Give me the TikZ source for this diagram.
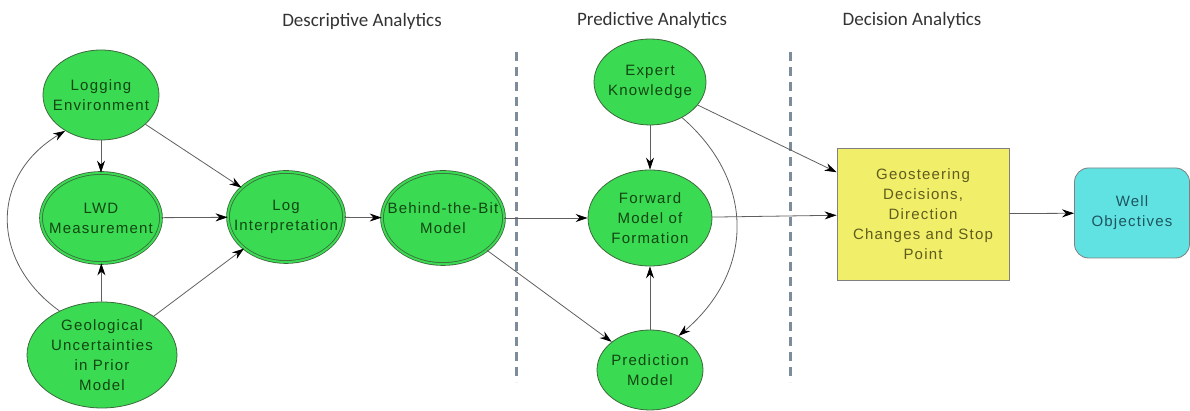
\documentclass[tikz,border=0pt]{standalone}
\usepackage{fontspec}
\setmainfont{Liberation Sans}
\newfontfamily\headfont{Carlito}
\newfontfamily\nodefont[LetterSpace=8]{Liberation Sans}
\usetikzlibrary{arrows.meta,shapes.geometric}

\definecolor{blobgreen}{RGB}{58,218,82}
\definecolor{blobedge}{RGB}{60,105,60}
\definecolor{blobtext}{RGB}{18,70,18}
\definecolor{boxyellow}{RGB}{241,238,106}
\definecolor{boxtext}{RGB}{95,92,30}
\definecolor{goalcyan}{RGB}{96,226,226}
\definecolor{goaltext}{RGB}{30,85,95}
\definecolor{linkgray}{RGB}{95,95,95}
\definecolor{sepgray}{RGB}{125,140,155}

\begin{document}
\begin{tikzpicture}[x=1pt,y=1pt,>={Stealth[length=12pt,width=8pt,black]},
	factor/.style={shape=ellipse,draw=blobedge,line width=0.8pt,fill=blobgreen,inner sep=0pt},
	known/.style={factor,double=blobgreen,double distance=2pt},
	inner/.style={align=center,text=blobtext,font=\nodefont\fontsize{15}{20}\selectfont},
	decision/.style={shape=rectangle,draw=gray,line width=0.8pt,fill=boxyellow,align=center,
		text=boxtext,font=\nodefont\fontsize{15}{20}\selectfont},
	goal/.style={shape=rectangle,rounded corners=14pt,draw=gray,line width=0.8pt,fill=goalcyan,
		align=center,text=goaltext,font=\nodefont\fontsize{15}{20}\selectfont},
	header/.style={text=black!80,font=\headfont\fontsize{19}{22}\selectfont},
	link/.style={->,draw=linkgray,line width=0.8pt},
	divider/.style={draw=sepgray,line width=3pt,dash pattern=on 9pt off 6pt}]
    \useasboundingbox (0,0) rectangle (1190,411);
    % column headers
    \node[header] (deschead) at (362,390) {Descriptive Analytics};
    \node[header] (predhead) at (652,391) {Predictive Analytics};
    \node[header] (dechead) at (912,391) {Decision Analytics};
    % separators
    \coordinate (sepatop) at (516,359);
    \coordinate (sepabot) at (516,29);
    \coordinate (sepbtop) at (790,359);
    \coordinate (sepbbot) at (790,29);
    \draw[divider] (sepatop) -- (sepabot);
    \draw[divider] (sepbtop) -- (sepbbot);
    % create the nodes
    \node[factor,minimum width=116pt,minimum height=90pt,
	    label={[inner]center:Logging\\Environment}] (logenv) at (101,316) {};
    \node[known,minimum width=120pt,minimum height=90pt,
	    label={[inner]center:LWD\\Measurement}] (lwd) at (101,193) {};
    \node[factor,minimum width=150pt,minimum height=106pt,
	    label={[inner]center:Geological\\Uncertainties\\in Prior\\Model}] (geounc) at (102,56) {};
    \node[known,minimum width=116pt,minimum height=90pt,
	    label={[inner]center:Log\\Interpretation}] (logint) at (286,194) {};
    \node[known,minimum width=122pt,minimum height=92pt,
	    label={[inner]center:Behind-the-Bit\\Model}] (btb) at (443,193) {};
    \node[factor,minimum width=112pt,minimum height=86pt,
	    label={[inner]center:Expert\\Knowledge}] (expert) at (650,329) {};
    \node[factor,minimum width=124pt,minimum height=96pt,
	    label={[inner]center:Forward\\Model of\\Formation}] (fwdmodel) at (650,193) {};
    \node[factor,minimum width=106pt,minimum height=80pt,
	    label={[inner]center:Prediction\\Model}] (predmodel) at (650,41) {};
    \node[decision,minimum width=172pt,minimum height=132pt] (geosteer) at (923,197)
	    {Geosteering\\Decisions,\\Direction\\Changes and Stop\\Point};
    \node[goal,minimum width=115pt,minimum height=90pt] (wellobj) at (1132,198)
	    {Well\\Objectives};
    % connect the nodes
    \draw[link] (logenv) -- (lwd);
    \draw[link] (logenv) -- (logint);
    \draw[link] (lwd) -- (logint);
    \draw[link] (geounc) -- (lwd);
    \draw[link] (geounc) -- (logint);
    \draw[link] (geounc.134) .. controls (-10,150) and (-10,235) .. (logenv.225);
    \draw[link] (logint) -- (btb);
    \draw[link] (btb) -- (fwdmodel);
    \draw[link] (btb) -- (predmodel);
    \draw[link] (expert) -- (fwdmodel);
    \draw[link] (expert.312) .. controls (755,230) and (755,140) .. (predmodel.50);
    \draw[link] (expert) -- (geosteer);
    \draw[link] (predmodel) -- (fwdmodel);
    \draw[link] (fwdmodel) -- (geosteer);
    \draw[link] (geosteer) -- (wellobj);
\end{tikzpicture}
\end{document}
